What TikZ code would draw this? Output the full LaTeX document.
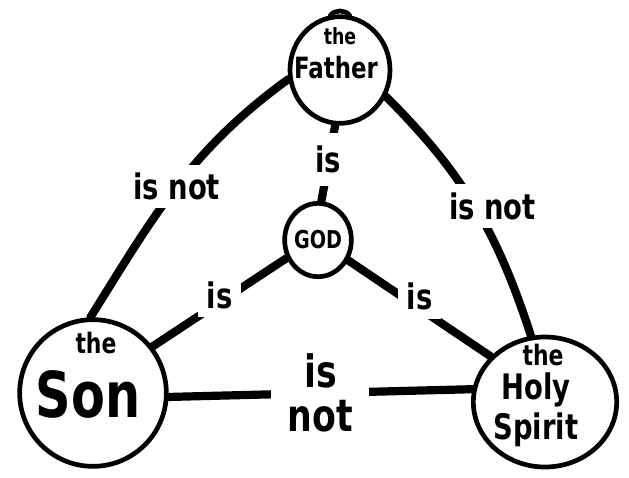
\documentclass[tikz,border=0pt]{standalone}
\usepackage{fontspec}
\setmainfont{DejaVu Sans}[FakeStretch=0.78]
\usetikzlibrary{shapes.geometric}

\begin{document}
\begin{tikzpicture}[x=0.03cm,y=-0.03cm,font=\bfseries,
    pen/.style={line width=4pt},
    ring/.style={pen,draw,ellipse,inner sep=0pt},
    link/.style={line width=7pt,line cap=round},
    lbl/.style={fill=white,inner sep=7pt,font=\bfseries\fontsize{30}{30}\selectfont}]
  \useasboundingbox[fill=white] (0,0) rectangle (629,477);
  % the four circles
  \node[ring,minimum width=3cm,minimum height=3.2cm] (father) at (340,70) {};
  \node[ring,minimum width=2cm,minimum height=2.2cm] (god) at (318,240) {};
  \node[ring,minimum width=4.4cm,minimum height=4.4cm] (son) at (93,393) {};
  \node[ring,minimum width=4.3cm,minimum height=3.9cm] (spirit) at (545,402) {};
  \draw[pen,line cap=round] (father.100) to[bend left=50] (father.80);
  % names
  \node[font=\bfseries\fontsize{19}{19}\selectfont] (fatherthe) at (340,36) {the};
  \node[font=\bfseries\fontsize{25}{25}\selectfont] (fathername) at (336,68) {Father};
  \node[font=\bfseries\fontsize{21}{21}\selectfont] (godname) at (318,240) {GOD};
  \node[font=\bfseries\fontsize{24}{24}\selectfont] (sonthe) at (96,343) {the};
  \node[font=\bfseries\fontsize{54}{54}\selectfont] (sonname) at (88,394) {Son};
  \node[font=\bfseries\fontsize{24}{24}\selectfont] (spiritthe) at (543,355) {the};
  \node[font=\bfseries\fontsize{30}{34}\selectfont,align=center] (spiritname) at (536,410) {Holy\\Spirit};
  % relations
  \draw[link] (father.190) to[out=216,in=58] node[lbl] {is not} (son.92);
  \draw[link] (father.-30) to[out=-45,in=108] node[lbl,xshift=15pt] {is not} (spirit.102);
  \draw[link] (father.265) -- node[lbl,inner ysep=11pt,yshift=3pt] {is} (god.85);
  \draw[link] (god.210) -- node[lbl,yshift=6pt] {is} (son.38);
  \draw[link] (god.-34) -- node[lbl,yshift=10pt] {is} (spirit.140);
  \draw[link] (son.-3) -- node[lbl,inner xsep=14pt,align=center,font=\bfseries\fontsize{38}{38}\selectfont] {is\\not} (spirit.170);
\end{tikzpicture}
\end{document}
